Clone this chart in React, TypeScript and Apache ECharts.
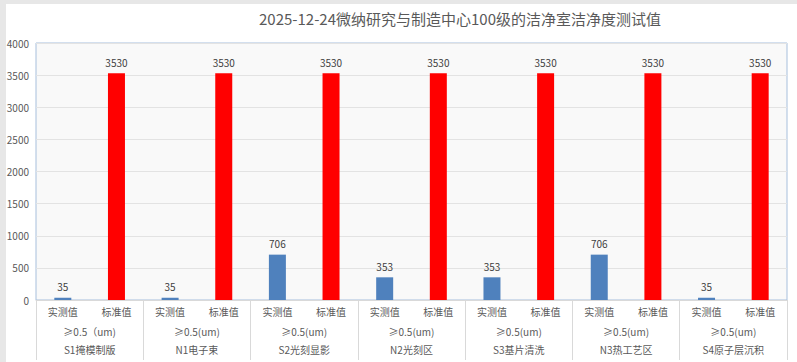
import React, { useEffect, useRef } from "react";
import * as echarts from "echarts";

const title = "2025-12-24微纳研究与制造中心100级的洁净室洁净度测试值";
const kinds = ["实测值", "标准值"];
const sizes = ["≥0.5（um)", "≥0.5(um)", "≥0.5(um)", "≥0.5(um)", "≥0.5(um)", "≥0.5(um)", "≥0.5(um)"];
const rooms = ["S1掩模制版", "N1电子束", "S2光刻显影", "N2光刻区", "S3基片清洗", "N3热工艺区", "S4原子层沉积"];
const measured = [35, 35, 706, 353, 353, 706, 35];
const standard = [3530, 3530, 3530, 3530, 3530, 3530, 3530];
const yTicks = { min: 0, max: 4000, interval: 500 };

export default function App() {
  const ref = useRef<HTMLDivElement>(null);
  useEffect(() => {
    document.body.style.margin = "0";
    const chart = echarts.init(ref.current!, undefined, { renderer: "svg" });
    const cats: string[] = [];
    const values: any[] = [];
    rooms.forEach((r, i) => {
      cats.push(kinds[0] + "#" + i, kinds[1] + "#" + i);
      values.push({ value: measured[i], itemStyle: { color: "#4f81bd" } });
      values.push({ value: standard[i], itemStyle: { color: "#ff0000" } });
    });
    const font = "'Noto Sans CJK SC', 'Noto Sans', sans-serif";
    chart.setOption({
      animation: false,
      backgroundColor: "#ffffff",
      textStyle: { fontFamily: font },
      title: {
        text: title,
        left: 455,
        top: 6,
        textAlign: "center",
        textStyle: { fontSize: 15, fontWeight: "normal", color: "#595959", fontFamily: font },
      },
      graphic: [
        { type: "rect", left: 0, top: 0, shape: { width: 797, height: 4 }, style: { fill: "#e7e7e7" } },
        { type: "rect", left: 0, top: 0, shape: { width: 6, height: 362 }, style: { fill: "#e7e7e7" } },
      ],
      grid: {
        left: 36,
        right: 10,
        top: 43,
        bottom: 62,
        show: true,
        backgroundColor: "#f9f9f9",
        borderColor: "#a7bfdc",
        borderWidth: 1,
      },
      xAxis: [
        {
          type: "category",
          data: cats,
          axisLine: { show: true, lineStyle: { color: "#d9d9d9" } },
          axisTick: { show: false },
          axisLabel: {
            margin: 6,
            fontSize: 10,
            color: "#595959",
            formatter: (v: string) => v.split("#")[0],
          },
        },
        {
          type: "category",
          data: rooms.map((r, i) => sizes[i] + "\n" + r),
          position: "bottom",
          axisLine: { show: false },
          axisTick: { show: true, length: 60, lineStyle: { color: "#d9d9d9" } },
          axisLabel: { margin: 22, fontSize: 10, lineHeight: 18, color: "#595959" },
        },
      ],
      yAxis: {
        type: "value",
        min: yTicks.min,
        max: yTicks.max,
        interval: yTicks.interval,
        axisLine: { show: false },
        axisTick: { show: false },
        axisLabel: { fontSize: 10, color: "#595959", margin: 7, formatter: (v: number) => String(v) },
        splitLine: { lineStyle: { color: "#e3e3e3" } },
      },
      series: [
        {
          type: "bar",
          xAxisIndex: 0,
          data: values,
          barWidth: 17,
          label: { show: true, position: "top", distance: 6, fontSize: 10, color: "#404040" },
        },
      ],
    });
    return () => chart.dispose();
  }, []);
  return <div ref={ref} style={{ width: 797, height: 362 }} />;
}
